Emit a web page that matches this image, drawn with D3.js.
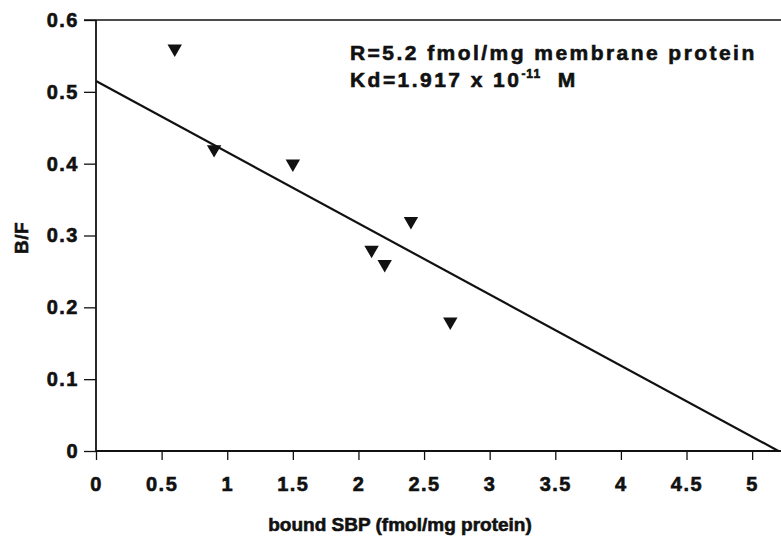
<!DOCTYPE html>
<html>
<head>
<meta charset="utf-8">
<script src="https://cdn.jsdelivr.net/npm/d3@7"></script>
<style>
  body { margin: 0; background: #fff; }
  text { font-family: "Liberation Sans", Arial, Helvetica, sans-serif; font-weight: bold; fill: #111; stroke: #111; stroke-width: 0.6px; }
</style>
</head>
<body>
<div id="chart"></div>
<script>
////////////////////////////////////////////////////////////////////////
// Data

// bound SBP (fmol/mg protein) and B/F for each measured point
let boundSBP = [0.6, 0.9, 1.5, 2.1, 2.2, 2.4, 2.7];
let bOverF   = [0.56, 0.42, 0.40, 0.28, 0.26, 0.32, 0.18];

// fitted Scatchard line: end points [x, y]
let fitLine = [[0, 0.515], [5.2, 0]];

let xTicks = [0, 0.5, 1, 1.5, 2, 2.5, 3, 3.5, 4, 4.5, 5];
let yTicks = [0, 0.1, 0.2, 0.3, 0.4, 0.5, 0.6];

let width = 781;
let height = 537;

let svg = d3.select("#chart")
  .append("svg")
  .attr("width", width)
  .attr("height", height);

let xScale = d3.scaleLinear().domain([0, 5.22]).range([96, 781]);
let yScale = d3.scaleLinear().domain([0, 0.6]).range([451, 20]);

// x axis, ticks hang below the line
let xAxis = d3.axisBottom(xScale)
  .tickValues(xTicks)
  .tickSize(9)
  .tickPadding(17)
  .tickFormat(d => String(d));

svg.append("g")
  .attr("class", "xaxis")
  .attr("transform", "translate(0," + yScale(0) + ")")
  .call(xAxis);

let yAxis = d3.axisLeft(yScale)
  .tickValues(yTicks)
  .tickSize(12)
  .tickPadding(5)
  .tickFormat(d => String(d));

svg.append("g")
  .attr("class", "yaxis")
  .attr("transform", "translate(" + xScale(0) + ",0)")
  .call(yAxis);

// style both axes like the printed figure
svg.selectAll(".xaxis path, .yaxis path").remove();
svg.selectAll(".tick line").attr("stroke", "#111").attr("stroke-width", 1.3);
svg.selectAll(".tick text")
  .attr("font-size", 20)
  .style("letter-spacing", "1.5px")
  .attr("fill", "#111");

// axis lines + top frame line
svg.append("line")
  .attr("x1", xScale(0)).attr("x2", width)
  .attr("y1", yScale(0)).attr("y2", yScale(0))
  .attr("stroke", "#111").attr("stroke-width", 1.8);
svg.append("line")
  .attr("x1", xScale(0)).attr("x2", xScale(0))
  .attr("y1", yScale(0.6)).attr("y2", yScale(0))
  .attr("stroke", "#111").attr("stroke-width", 1.8);
svg.append("line")
  .attr("x1", xScale(0) - 12).attr("x2", width)
  .attr("y1", yScale(0.6)).attr("y2", yScale(0.6))
  .attr("stroke", "#111").attr("stroke-width", 1.5);

// regression line
let line = d3.line()
  .x(d => xScale(d[0]))
  .y(d => yScale(d[1]));

svg.append("path")
  .datum(fitLine)
  .attr("fill", "none")
  .attr("stroke", "#111")
  .attr("stroke-width", 2.2)
  .attr("d", line);

// downward triangles for the points
let tri = d3.symbol().type(d3.symbolTriangle).size(90);

svg.append("g")
  .attr("class", "points")
  .selectAll("path")
  .data(boundSBP)
  .enter()
  .append("path")
  .attr("d", tri)
  .attr("fill", "#111")
  .attr("transform", (d, i) => "translate(" + xScale(d) + "," + yScale(bOverF[i]) + ") rotate(180)");

// axis titles
svg.append("text")
  .attr("x", 400)
  .attr("y", 531)
  .attr("text-anchor", "middle")
  .attr("font-size", 19)
  .text("bound SBP (fmol/mg protein)");

svg.append("text")
  .attr("transform", "translate(28,238) rotate(-90)")
  .attr("text-anchor", "middle")
  .attr("font-size", 19)
  .style("letter-spacing", "0.5px")
  .text("B/F");

// annotation
svg.append("text")
  .attr("x", 350)
  .attr("y", 60)
  .attr("font-size", 21)
  .style("letter-spacing", "2.45px")
  .text("R=5.2 fmol/mg membrane protein");

let kd = svg.append("text")
  .attr("x", 350)
  .attr("y", 87)
  .attr("font-size", 21)
  .style("letter-spacing", "2.45px");
kd.append("tspan").text("Kd=1.917 x 10");
kd.append("tspan").attr("font-size", 12).attr("dy", -9).style("letter-spacing", "1px").text("-11");
kd.append("tspan").attr("dy", 9).text("\u00a0 M");
</script>
</body>
</html>
